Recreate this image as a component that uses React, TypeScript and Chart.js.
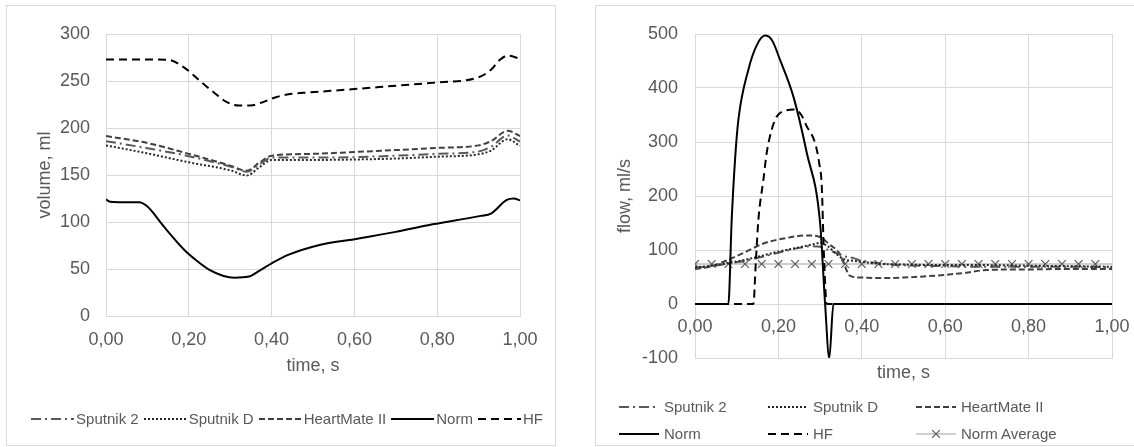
import React, { useEffect, useRef } from 'react';
import { Chart, registerables } from 'chart.js';

Chart.register(...registerables);

const FONT = '"Liberation Sans", Arial, Helvetica, sans-serif';
const TEXT = '#595959';
const GRID = '#d9d9d9';

// ---------- shared axis ----------
const xTickValues = [0, 0.2, 0.4, 0.6, 0.8, 1.0];
const xTickLabels = ['0,00', '0,20', '0,40', '0,60', '0,80', '1,00'];

// ---------- left chart: volume, ml ----------
const hfVolT = [0, 0.05, 0.1, 0.15, 0.19, 0.227, 0.26, 0.29, 0.32, 0.35, 0.372, 0.412, 0.45, 0.49, 0.6, 0.7, 0.8, 0.9, 0.93, 0.95, 0.97, 0.99, 1.0];
const hfVol = [273, 273, 273, 272.5, 264, 250, 238, 228, 224, 224, 226.5, 233, 236.4, 237.8, 241.4, 245, 248.5, 254, 262, 272, 277, 275, 273];

const normVolT = [0, 0.01, 0.03, 0.08, 0.1, 0.14, 0.19, 0.217, 0.25, 0.284, 0.31, 0.345, 0.37, 0.4, 0.44, 0.516, 0.6, 0.7, 0.778, 0.905, 0.93, 0.968, 0.985, 1.0];
const normVol = [124, 121.5, 121, 121, 116.4, 95, 70, 59.6, 49, 42.6, 40.8, 42, 48, 56, 65, 75.6, 81.7, 89.5, 96.6, 106.5, 109, 123.5, 125, 123];

const grayVolT = [0, 0.1, 0.2, 0.3, 0.34, 0.37, 0.4, 0.5, 0.6, 0.7, 0.8, 0.9, 0.93, 0.97, 1.0];
const heartMateVol = [191.5, 184, 172.5, 160, 154.5, 163, 170.5, 172.5, 174.5, 176.5, 178.8, 181.5, 186, 197, 191.5];
const sputnik2Vol = [186, 178.5, 170, 159, 153.5, 161, 168.5, 168.5, 169, 170.5, 172.5, 175, 180, 192, 185.5];
const sputnikDVol = [181.5, 173, 163.5, 155, 149.5, 158, 166, 166, 166.5, 167.5, 169.5, 172, 176, 188, 181];

// ---------- right chart: flow, ml/s ----------
const normFlowT = [0, 0.08, 0.088, 0.096, 0.104, 0.128, 0.148, 0.168, 0.185, 0.204, 0.236, 0.268, 0.3, 0.312, 0.322, 0.332, 1.0];
const normFlow = [0, 0, 156, 267, 341, 434, 479, 497, 488, 452, 384, 280, 150, 0, -100, 0, 0];

const hfFlowT = [0, 0.14, 0.146, 0.152, 0.164, 0.172, 0.184, 0.196, 0.216, 0.24, 0.255, 0.268, 0.288, 0.298, 0.304, 0.309, 0.316, 1.0];
const hfFlow = [0, 0, 80, 156, 230, 280, 323, 347, 358, 360, 350, 329, 298, 260, 218, 95, 0, 0];

const heartMateFlowT = [0, 0.04, 0.08, 0.12, 0.164, 0.217, 0.27, 0.3, 0.32, 0.348, 0.372, 0.4, 0.45, 0.5, 0.6, 0.65, 0.7, 0.8, 0.9, 1.0];
const heartMateFlow = [65, 70, 82, 96, 112, 122, 127, 124, 112, 92, 52, 49, 48, 49, 54, 58, 63, 64, 65, 65];

const sputnikFlowT = [0, 0.04, 0.08, 0.12, 0.164, 0.2, 0.244, 0.28, 0.3, 0.32, 0.34, 0.36, 0.38, 0.4, 0.45, 0.5, 0.6, 0.7, 0.8, 0.9, 1.0];
const sputnik2Flow = [67, 70, 75, 80, 88, 95, 103, 107, 106, 100, 94, 88, 85, 80, 75, 72, 70, 69, 69, 69, 68];
const sputnikDFlow = [68, 71, 76, 82, 90, 97, 104, 110, 113, 106, 92, 82, 80, 78, 74, 73, 72, 72, 71, 70, 69];

const normAvgT = [0, 0.04, 0.08, 0.12, 0.16, 0.2, 0.24, 0.28, 0.32, 0.36, 0.4, 0.44, 0.48, 0.52, 0.56, 0.6, 0.64, 0.68, 0.72, 0.76, 0.8, 0.84, 0.88, 0.92, 0.96, 1.0];
const normAvgFlow = [74, 74, 74, 74, 74, 74, 74, 74, 74, 74, 74, 74, 74, 74, 74, 74, 74, 74, 74, 74, 74, 74, 74, 74, 74, 74];

// ---------- styles ----------
type Style = { label: string; color: string; dash: number[]; width: number; marker?: boolean };
const S_SPUTNIK2: Style = { label: 'Sputnik 2', color: '#595959', dash: [10, 4, 2, 4], width: 2 };
const S_SPUTNIKD: Style = { label: 'Sputnik D', color: '#262626', dash: [2, 2], width: 2 };
const S_HEARTMATE: Style = { label: 'HeartMate II', color: '#404040', dash: [6, 3], width: 2 };
const S_NORM: Style = { label: 'Norm', color: '#000000', dash: [], width: 2 };
const S_HF: Style = { label: 'HF', color: '#000000', dash: [8, 5], width: 2 };
const S_NORMAVG: Style = { label: 'Norm Average', color: '#bfbfbf', dash: [], width: 1.5, marker: true };

function ds(st: Style, t: number[], v: number[]) {
  return {
    label: st.label,
    data: t.map((x, i) => ({ x, y: v[i] })),
    borderColor: st.color,
    borderDash: st.dash,
    borderWidth: st.width,
    pointRadius: 0,
    fill: false,
    cubicInterpolationMode: 'monotone',
  } as any;
}

const tickFont = { family: FONT, size: 18 };

const leftConfig: any = {
  type: 'line',
  data: {
    datasets: [
      ds(S_NORM, normVolT, normVol),
      ds(S_HF, hfVolT, hfVol),
      ds(S_SPUTNIKD, grayVolT, sputnikDVol),
      ds(S_SPUTNIK2, grayVolT, sputnik2Vol),
      ds(S_HEARTMATE, grayVolT, heartMateVol),
    ],
  },
  options: {
    responsive: false,
    animation: false,
    layout: { padding: { left: 0, right: 40, top: 34, bottom: 69 } },
    plugins: { legend: { display: false }, tooltip: { enabled: false } },
    scales: {
      x: {
        type: 'linear',
        min: 0,
        max: 1,
        afterBuildTicks: (s: any) => {
          s.ticks = xTickValues.map((v) => ({ value: v }));
        },
        afterFit: (s: any) => {
          s.height = 62;
        },
        grid: { color: GRID, drawTicks: false },
        border: { color: GRID },
        ticks: {
          color: TEXT,
          font: tickFont,
          padding: 13,
          maxRotation: 0,
          callback: (_v: any, i: number) => xTickLabels[i] ?? '',
        },
        title: { display: true, text: 'time, s', color: TEXT, font: tickFont, padding: { top: 0, bottom: 1.5 } },
      },
      y: {
        type: 'linear',
        min: 0,
        max: 300,
        afterFit: (s: any) => {
          s.width = 106;
        },
        grid: { color: GRID, drawTicks: false },
        border: { color: GRID },
        ticks: { stepSize: 50, color: TEXT, font: tickFont, padding: 16 },
        title: { display: true, text: 'volume, ml', color: TEXT, font: tickFont, padding: { top: 34, bottom: 0 } },
      },
    },
  },
};

const normAvgDs = {
  ...ds(S_NORMAVG, normAvgT, normAvgFlow),
  pointStyle: 'crossRot',
  pointRadius: normAvgT.map((t) => (t < 0.99 ? 5.5 : 0)),
  pointBorderColor: '#595959',
  pointBorderWidth: 1.2,
  cubicInterpolationMode: 'default',
  tension: 0,
};

// x-axis labels drawn where the value axis crosses zero (as in the source chart)
const zeroAxisLabels = {
  id: 'zeroAxisLabels',
  afterDraw(chart: any) {
    const { ctx, scales, chartArea } = chart;
    const x = scales.x;
    const y0 = scales.y.getPixelForValue(0);
    ctx.save();
    ctx.font = `18px ${FONT}`;
    ctx.fillStyle = TEXT;
    ctx.textAlign = 'center';
    ctx.textBaseline = 'middle';
    xTickValues.forEach((v, i) => {
      ctx.fillText(xTickLabels[i], x.getPixelForValue(v), y0 + 23);
    });
    ctx.fillText('time, s', (chartArea.left + chartArea.right) / 2, y0 + 69);
    ctx.restore();
  },
};

const rightConfig: any = {
  type: 'line',
  data: {
    datasets: [
      ds(S_NORM, normFlowT, normFlow),
      ds(S_HF, hfFlowT, hfFlow),
      ds(S_SPUTNIKD, sputnikFlowT, sputnikDFlow),
      ds(S_SPUTNIK2, sputnikFlowT, sputnik2Flow),
      ds(S_HEARTMATE, heartMateFlowT, heartMateFlow),
      normAvgDs,
    ],
  },
  plugins: [zeroAxisLabels],
  options: {
    responsive: false,
    animation: false,
    layout: { padding: { left: 0, right: 22, top: 34, bottom: 89 } },
    plugins: { legend: { display: false }, tooltip: { enabled: false } },
    scales: {
      x: {
        type: 'linear',
        min: 0,
        max: 1,
        afterBuildTicks: (s: any) => {
          s.ticks = xTickValues.map((v) => ({ value: v }));
        },
        afterFit: (s: any) => {
          s.height = 0;
        },
        grid: { color: GRID, drawTicks: false },
        border: { color: GRID },
        ticks: { display: false },
        title: { display: false },
      },
      y: {
        type: 'linear',
        min: -100,
        max: 500,
        afterFit: (s: any) => {
          s.width = 135;
        },
        grid: { color: GRID, drawTicks: false },
        border: { color: GRID },
        ticks: { stepSize: 100, color: TEXT, font: tickFont, padding: 17 },
        title: { display: true, text: 'flow, ml/s', color: TEXT, font: tickFont, padding: { top: 54, bottom: 0 } },
      },
    },
  },
};

function ChartCanvas({ config, left, width, height }: { config: any; left: number; width: number; height: number }) {
  const ref = useRef<HTMLCanvasElement>(null);
  useEffect(() => {
    const c = new Chart(ref.current as HTMLCanvasElement, config);
    return () => c.destroy();
  }, []);
  return (
    <canvas
      ref={ref}
      width={width}
      height={height}
      style={{ position: 'absolute', left, top: 0, width, height }}
    />
  );
}

function Sample({ st, w }: { st: Style; w: number }) {
  return (
    <svg width={w} height={12} style={{ display: 'block', flex: 'none' }}>
      <line
        x1={0}
        y1={6}
        x2={w}
        y2={6}
        stroke={st.color}
        strokeWidth={st.width}
        strokeDasharray={st.dash.length ? st.dash.join(' ') : undefined}
      />
      {st.marker ? (
        <g stroke="#595959" strokeWidth={1.2}>
          <line x1={w / 2 - 3.8} y1={2.2} x2={w / 2 + 3.8} y2={9.8} />
          <line x1={w / 2 - 3.8} y1={9.8} x2={w / 2 + 3.8} y2={2.2} />
        </g>
      ) : null}
    </svg>
  );
}

const textStyle: React.CSSProperties = {
  fontFamily: FONT,
  fontSize: 15,
  color: TEXT,
  whiteSpace: 'nowrap',
  lineHeight: '18px',
};

const leftLegend = [S_SPUTNIK2, S_SPUTNIKD, S_HEARTMATE, S_NORM, S_HF];
const rightLegendRows = [
  [S_SPUTNIK2, S_SPUTNIKD, S_HEARTMATE],
  [S_NORM, S_HF, S_NORMAVG],
];
const rightCols = [619, 768, 916];
const rightRows = [407, 434];

export default function App() {
  return (
    <div style={{ position: 'absolute', left: 0, top: 0, width: 1134, height: 447, overflow: 'hidden', background: '#fff' }}>
      <div style={{ position: 'absolute', left: 6, top: 5, width: 550, height: 441, border: `1px solid ${GRID}`, boxSizing: 'border-box' }} />
      <div style={{ position: 'absolute', left: 595, top: 5, width: 545, height: 441, border: `1px solid ${GRID}`, boxSizing: 'border-box' }} />
      <ChartCanvas config={leftConfig} left={0} width={560} height={447} />
      <ChartCanvas config={rightConfig} left={560} width={574} height={447} />
      <div
        style={{
          position: 'absolute',
          left: 13,
          top: 409,
          width: 548,
          height: 20,
          display: 'flex',
          justifyContent: 'center',
          alignItems: 'center',
        }}
      >
        {leftLegend.map((st, i) => (
          <div key={i} style={{ display: 'flex', alignItems: 'center', marginRight: i < leftLegend.length - 1 ? 5 : 0 }}>
            <Sample st={st} w={43} />
            <span style={{ ...textStyle, marginLeft: 2 }}>{st.label}</span>
          </div>
        ))}
      </div>
      {rightLegendRows.map((row, r) =>
        row.map((st, c) => (
          <div
            key={`${r}-${c}`}
            style={{
              position: 'absolute',
              left: rightCols[c],
              top: rightRows[r] - 10,
              height: 20,
              display: 'flex',
              alignItems: 'center',
            }}
          >
            <Sample st={st} w={40} />
            <span style={{ ...textStyle, marginLeft: 5 }}>{st.label}</span>
          </div>
        ))
      )}
    </div>
  );
}
